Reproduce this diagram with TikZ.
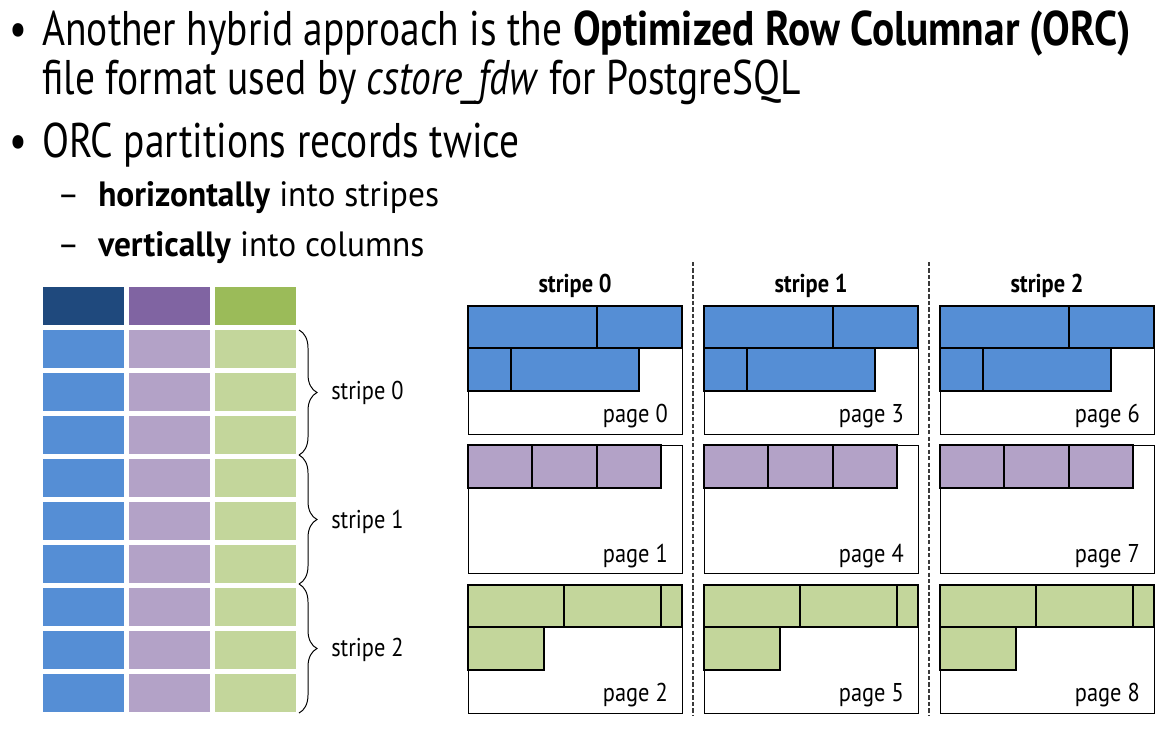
\documentclass[tikz,border=0pt]{standalone}
\usepackage{fontspec}
\setmainfont{PT Sans}
\newfontfamily\bodyface[FakeStretch=0.81,BoldFeatures={FakeStretch=0.85}]{PT Sans}
\newfontfamily\subface[FakeStretch=0.95]{PT Sans}
\newfontfamily\lblface[FakeStretch=0.87]{PT Sans}
\usetikzlibrary{decorations.pathreplacing}
\definecolor{hdblue}{HTML}{1F497D}
\definecolor{hdpurple}{HTML}{8064A2}
\definecolor{hdgreen}{HTML}{9BBB59}
\definecolor{cellblue}{HTML}{558ED5}
\definecolor{cellpurple}{HTML}{B3A2C7}
\definecolor{cellgreen}{HTML}{C3D69B}
\definecolor{ink}{HTML}{000000}
\definecolor{sepline}{HTML}{3A3A3A}

\begin{document}
\begin{tikzpicture}[
  x=0.025cm,y=-0.025cm,
  bodytext/.style={font=\bodyface\fontsize{34.6}{40}\selectfont,anchor=base west,inner sep=0pt,text=ink},
  subtext/.style={font=\subface\fontsize{25}{30}\selectfont,anchor=base west,inner sep=0pt,text=ink},
  lbl/.style={font=\lblface\fontsize{18.3}{22}\selectfont,inner sep=0pt,text=ink},
  seg/.style={draw=ink,line width=1pt},
  pagebox/.style={draw=ink,line width=1pt,fill=white,anchor=north west,
                  minimum width=5.35cm,minimum height=3.2cm,inner sep=0pt},
  stripebrace/.style={decorate,decoration={brace,amplitude=0.45cm},line width=0.7pt},
  divider/.style={draw=sepline,line width=0.8pt,dash pattern=on 3pt off 1.6pt},
]
\useasboundingbox (0,0) rectangle (1174,733);

% ===================== BULLET TEXT =====================
\node[bodytext] (dot1) at (9,45) {•};
\node[bodytext] (line1) at (42,45) {Another hybrid approach is the \textbf{Optimized Row Columnar (ORC)}};
\node[bodytext] (line2) at (42,94) {file format used by \textit{cstore\_fdw} for PostgreSQL};
\node[bodytext] (dot2) at (9,157) {•};
\node[bodytext] (line3) at (42,157) {ORC partitions records twice};
\node[subtext] (dash1) at (57,206) {–};
\node[subtext] (line4) at (98,206) {\textbf{horizontally} into stripes};
\node[subtext] (dash2) at (57,256) {–};
\node[subtext] (line5) at (98,256) {\textbf{vertically} into columns};

% ===================== ROW TABLE (left) =====================
\foreach \c/\hd/\cl in {0/hdblue/cellblue,1/hdpurple/cellpurple,2/hdgreen/cellgreen}{
  \fill[\hd] (43+86*\c,287) rectangle ++(81,38);
  \foreach \r in {0,...,8}{\fill[\cl] (43+86*\c,330+43*\r) rectangle ++(81,38);}
}

% braces marking the stripes
\coordinate (b0) at (299,330); \coordinate (b1) at (299,455);
\coordinate (b2) at (299,584); \coordinate (b3) at (299,713);
\draw[stripebrace] (b0) -- (b1);
\draw[stripebrace] (b1) -- (b2);
\draw[stripebrace] (b2) -- (b3);
\node[lbl,anchor=base west] (sl0) at (331,399) {stripe 0};
\node[lbl,anchor=base west] (sl1) at (331,528) {stripe 1};
\node[lbl,anchor=base west] (sl2) at (331,656) {stripe 2};

% ===================== ORC FILE (right) =====================
\draw[divider] (693,262) -- (693,716);
\draw[divider] (929,262) -- (929,716);

\foreach \j in {0,1,2}{
  \pgfmathtruncatemacro{\pa}{3*\j}
  \pgfmathtruncatemacro{\pb}{3*\j+1}
  \pgfmathtruncatemacro{\pc}{3*\j+2}
  \begin{scope}[shift={(468+236*\j,0)}]
    \node[lbl,font=\lblface\fontsize{18.3}{22}\selectfont\bfseries,anchor=base] (title\j) at (107,292) {stripe \j};

    % column 1 page
    \node[pagebox] (page\pa) at (0,306) {};
    \filldraw[seg,fill=cellblue] (0,306) rectangle (129,348) (129,306) rectangle (214,348)
                                 (0,348) rectangle (43,391) (43,348) rectangle (171,391);
    \node[lbl,anchor=base east] (pl\pa) at (200,422) {page \pa};

    % column 2 page
    \node[pagebox] (page\pb) at (0,445) {};
    \filldraw[seg,fill=cellpurple] (0,445) rectangle (64,488) (64,445) rectangle (129,488)
                                   (129,445) rectangle (193,488);
    \node[lbl,anchor=base east] (pl\pb) at (200,562) {page \pb};

    % column 3 page
    \node[pagebox] (page\pc) at (0,585) {};
    \filldraw[seg,fill=cellgreen] (0,585) rectangle (96,627) (96,585) rectangle (193,627)
                                  (193,585) rectangle (214,627) (0,627) rectangle (76,670);
    \node[lbl,anchor=base east] (pl\pc) at (200,701) {page \pc};
  \end{scope}
}

\end{tikzpicture}
\end{document}
